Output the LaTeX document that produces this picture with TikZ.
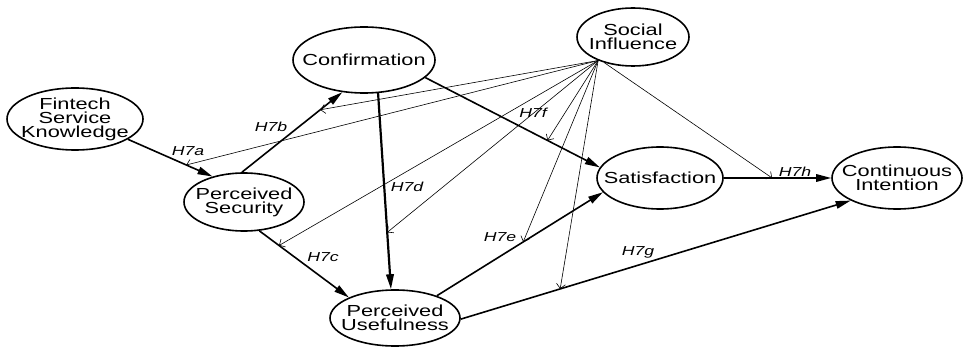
\documentclass[tikz,border=0pt]{standalone}
\usepackage{fontspec}
\setmainfont{Liberation Sans}[FakeStretch=1.36]
\usetikzlibrary{shapes.geometric,arrows.meta}
\begin{document}
\begin{tikzpicture}[x=1pt,y=-1pt,
  cons/.style={ellipse,draw,line width=1.6pt,inner xsep=-22pt,inner ysep=-14pt,align=center,
    font=\fontsize{16}{14}\selectfont},
  main/.style={line width=1.6pt,-{Triangle[length=15pt,width=7.5pt]}},
  mod/.style={line width=0.6pt,-{Straight Barb[length=4.5pt,width=9pt]}},
  hyp/.style={font=\itshape\fontsize{13}{13}\selectfont,inner sep=1pt}]
\useasboundingbox (0,0) rectangle (963,347);
% constructs
\node[cons,minimum width=136pt,minimum height=62pt] (fsk)  at (75,119)  {Fintech\\Service\\Knowledge};
\node[cons,minimum width=142pt,minimum height=66pt] (conf) at (364,60)  {Confirmation};
\node[cons,minimum width=120pt,minimum height=58pt] (ps)   at (244,202) {Perceived\\Security};
\node[cons,minimum width=130pt,minimum height=56pt] (pu)   at (395,318) {Perceived\\Usefulness};
\node[cons,minimum width=112pt,minimum height=58pt] (si)   at (633,37)  {Social\\Influence};
\node[cons,minimum width=126pt,minimum height=62pt] (sat)  at (660,178) {Satisfaction};
\node[cons,minimum width=130pt,minimum height=62pt] (ci)   at (897,178) {Continuous\\Intention};
% main paths
\draw[main] (fsk.-21) -- coordinate[pos=0.69] (ma) (ps.141);
\draw[main] (ps.94)   -- coordinate[pos=0.78] (mb) (conf.236);
\draw[main] (ps.-62)  -- coordinate[pos=0.22] (mc) (pu.156);
\draw[main,line width=2.2pt] (conf.-67) -- coordinate[pos=0.71] (md) (pu.98);
\draw[main] (conf.-16) -- coordinate[pos=0.70] (mf) (sat.170);
\draw[main] (pu.28)   -- coordinate[pos=0.52] (me) (sat.194);
\draw[main] (pu.-1)   -- coordinate[pos=0.255] (mg) (ci.206);
\draw[main] (sat.0)   -- coordinate[pos=0.45] (mh) (ci.180);
% moderating paths
\draw[mod] (si.214) -- (ma);
\draw[mod] (si.214) -- (mb);
\draw[mod] (si.214) -- (mc);
\draw[mod] (si.214) -- (md);
\draw[mod] (si.214) -- (mf);
\draw[mod] (si.214) -- (me);
\draw[mod] (si.214) -- (mg);
\draw[mod] (si.222) -- (mh);
% labels
\node[hyp] (h7a) at (188,151) {H7a};
\node[hyp] (h7b) at (271,127) {H7b};
\node[hyp] (h7c) at (323,257) {H7c};
\node[hyp] (h7d) at (407,187) {H7d};
\node[hyp] (h7e) at (500,237) {H7e};
\node[hyp] (h7f) at (533,113) {H7f};
\node[hyp] (h7g) at (638,252) {H7g};
\node[hyp] (h7h) at (795,172) {H7h};
\end{tikzpicture}
\end{document}
